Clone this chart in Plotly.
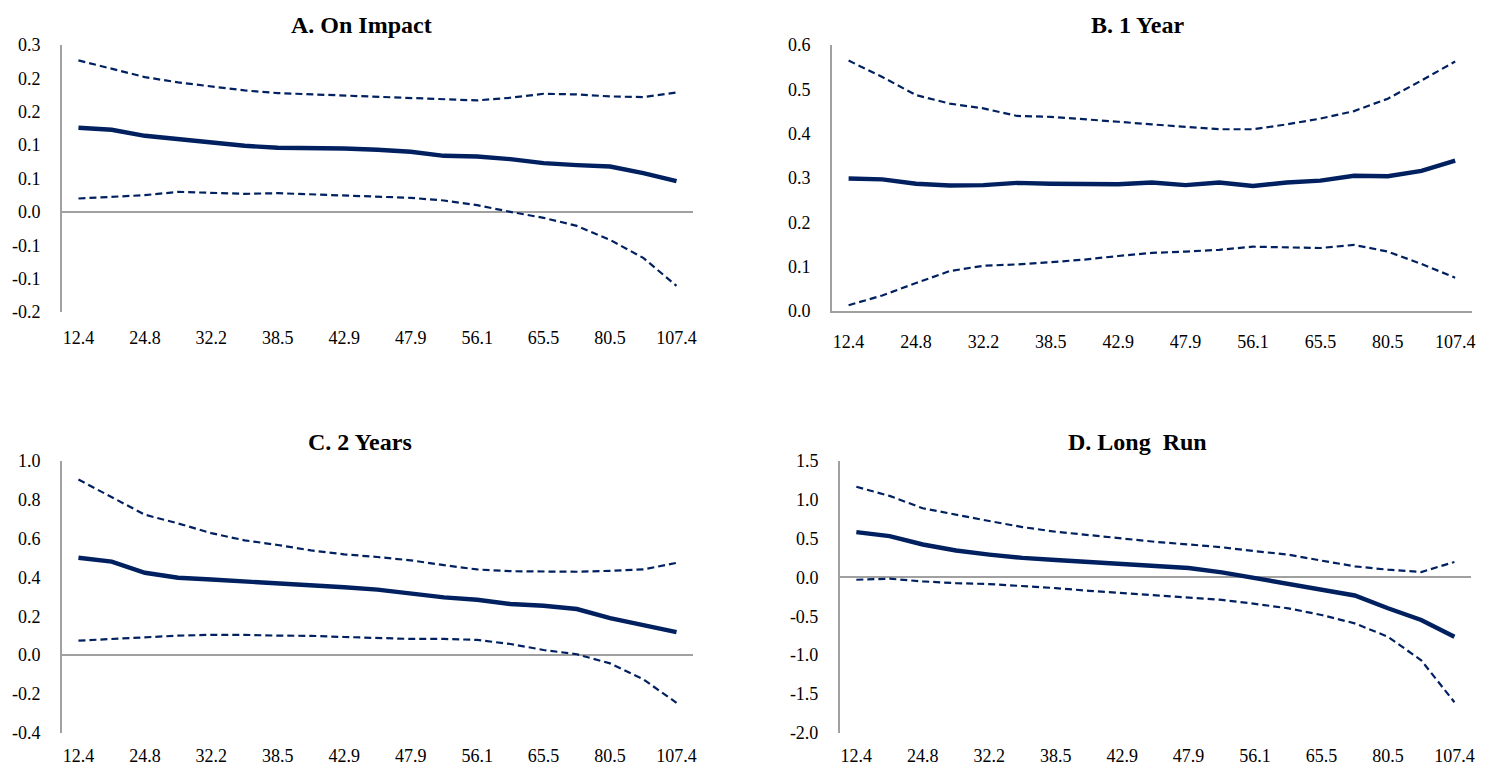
import plotly.graph_objects as go

# Category axis: 19 observations, every second one labelled
x_labels = ["12.4", "24.8", "32.2", "38.5", "42.9", "47.9", "56.1", "65.5", "80.5", "107.4"]
x_pos = list(range(19))
label_pos = x_pos[::2]

# A. On Impact
impact_mid = [0.126, 0.123, 0.114, 0.109, 0.104, 0.099, 0.096, 0.096, 0.095, 0.093,
              0.090, 0.084, 0.083, 0.079, 0.073, 0.070, 0.068, 0.058, 0.046]
impact_hi = [0.227, 0.215, 0.202, 0.194, 0.188, 0.182, 0.178, 0.176, 0.174, 0.172,
             0.171, 0.168, 0.167, 0.171, 0.177, 0.176, 0.173, 0.172, 0.179]
impact_lo = [0.020, 0.023, 0.025, 0.030, 0.028, 0.027, 0.028, 0.026, 0.024, 0.022,
             0.021, 0.017, 0.010, 0.000, -0.009, -0.021, -0.042, -0.069, -0.111]

# B. 1 Year
year1_mid = [0.299, 0.297, 0.287, 0.283, 0.284, 0.289, 0.287, 0.287, 0.286, 0.290,
             0.284, 0.290, 0.282, 0.290, 0.294, 0.305, 0.304, 0.316, 0.339]
year1_hi = [0.565, 0.528, 0.487, 0.468, 0.457, 0.440, 0.438, 0.433, 0.427, 0.421,
            0.416, 0.410, 0.410, 0.421, 0.434, 0.451, 0.479, 0.520, 0.563]
year1_lo = [0.013, 0.035, 0.063, 0.090, 0.102, 0.105, 0.110, 0.116, 0.124, 0.131,
            0.134, 0.138, 0.145, 0.143, 0.142, 0.149, 0.134, 0.106, 0.075]

# C. 2 Years
year2_mid = [0.501, 0.481, 0.424, 0.398, 0.389, 0.380, 0.372, 0.363, 0.349, 0.337,
             0.316, 0.297, 0.285, 0.263, 0.254, 0.237, 0.190, 0.152, 0.118]
year2_hi = [0.904, 0.812, 0.723, 0.678, 0.628, 0.591, 0.567, 0.539, 0.519, 0.505,
            0.488, 0.463, 0.441, 0.432, 0.429, 0.429, 0.434, 0.441, 0.475]
year2_lo = [0.074, 0.083, 0.093, 0.100, 0.104, 0.104, 0.100, 0.099, 0.093, 0.088,
            0.083, 0.083, 0.078, 0.057, 0.026, 0.004, -0.043, -0.125, -0.246]

# D. Long Run
long_mid = [0.583, 0.532, 0.424, 0.346, 0.294, 0.251, 0.225, 0.199, 0.177, 0.151,
            0.121, 0.065, -0.009, -0.074, -0.151, -0.233, -0.398, -0.549, -0.765]
long_hi = [1.167, 1.050, 0.890, 0.804, 0.726, 0.648, 0.588, 0.545, 0.501, 0.458,
           0.424, 0.389, 0.337, 0.294, 0.216, 0.143, 0.099, 0.069, 0.199]
long_lo = [-0.030, -0.017, -0.052, -0.074, -0.086, -0.108, -0.138, -0.173, -0.203, -0.225,
           -0.259, -0.290, -0.341, -0.398, -0.484, -0.592, -0.765, -1.067, -1.608]

# Y tick values and the one-decimal labels shown next to them
impact_ticks = [0.25, 0.2, 0.15, 0.1, 0.05, 0.0, -0.05, -0.1, -0.15]
impact_tick_text = ["0.3", "0.2", "0.2", "0.1", "0.1", "0.0", "-0.1", "-0.1", "-0.2"]
year1_ticks = [0.6, 0.5, 0.4, 0.3, 0.2, 0.1, 0.0]
year1_tick_text = ["0.6", "0.5", "0.4", "0.3", "0.2", "0.1", "0.0"]
year2_ticks = [1.0, 0.8, 0.6, 0.4, 0.2, 0.0, -0.2, -0.4]
year2_tick_text = ["1.0", "0.8", "0.6", "0.4", "0.2", "0.0", "-0.2", "-0.4"]
long_ticks = [1.5, 1.0, 0.5, 0.0, -0.5, -1.0, -1.5, -2.0]
long_tick_text = ["1.5", "1.0", "0.5", "0.0", "-0.5", "-1.0", "-1.5", "-2.0"]

W, H = 1486, 768
NAVY = "#002060"
AXIS_GREY = "#a0a0a0"
FONT = "Liberation Serif"


def px_x(p):
    return p / W


def px_y(p):
    return 1 - p / H


panels = [
    dict(title="A. On Impact", mid=impact_mid, hi=impact_hi, lo=impact_lo,
         ticks=impact_ticks, tick_text=impact_tick_text,
         xdom=(62, 695), ydom=(36, 310), title_xy=(362, 15), xstand=13),
    dict(title="B. 1 Year", mid=year1_mid, hi=year1_hi, lo=year1_lo,
         ticks=year1_ticks, tick_text=year1_tick_text,
         xdom=(834, 1476), ydom=(36, 309), title_xy=(1141, 15), xstand=14),
    dict(title="C. 2 Years", mid=year2_mid, hi=year2_hi, lo=year2_lo,
         ticks=year2_ticks, tick_text=year2_tick_text,
         xdom=(62, 695), ydom=(463, 742), title_xy=(361, 444), xstand=10),
    dict(title="D. Long\u00a0 Run", mid=long_mid, hi=long_hi, lo=long_lo,
         ticks=long_ticks, tick_text=long_tick_text,
         xdom=(842, 1475), ydom=(463, 742), title_xy=(1141, 444), xstand=10),
]

fig = go.Figure()
layout = dict(
    width=W, height=H,
    margin=dict(l=0, r=0, t=0, b=0),
    paper_bgcolor="white", plot_bgcolor="white",
    showlegend=False,
    font=dict(family=FONT, size=18, color="black"),
    annotations=[],
)

for i, p in enumerate(panels, start=1):
    xa = "x" if i == 1 else f"x{i}"
    ya = "y" if i == 1 else f"y{i}"
    for series, width, dash in ((p["hi"], 2.2, "7px,4px"),
                                (p["lo"], 2.2, "7px,4px"),
                                (p["mid"], 4.4, "solid")):
        fig.add_trace(go.Scatter(
            x=x_pos, y=series, mode="lines", xaxis=xa, yaxis=ya,
            line=dict(color=NAVY, width=width, dash=dash),
            hoverinfo="skip",
        ))

    lo_t, hi_t = min(p["ticks"]), max(p["ticks"])
    bottom_is_zero = lo_t == 0
    layout[f"xaxis{'' if i == 1 else i}"] = dict(
        domain=[px_x(p["xdom"][0]), px_x(p["xdom"][1])],
        anchor=ya, range=[-0.5, 18.5],
        tickmode="array", tickvals=label_pos, ticktext=x_labels,
        showgrid=False, zeroline=False, ticks="",
        showline=bottom_is_zero, linecolor=AXIS_GREY, linewidth=1.5,
        ticklabelstandoff=p["xstand"],
        tickfont=dict(family=FONT, size=18, color="black"),
    )
    layout[f"yaxis{'' if i == 1 else i}"] = dict(
        domain=[px_y(p["ydom"][1]), px_y(p["ydom"][0])],
        anchor=xa, range=[lo_t, hi_t],
        tickmode="array", tickvals=p["ticks"], ticktext=p["tick_text"],
        showgrid=False, ticks="",
        showline=True, linecolor=AXIS_GREY, linewidth=1.5,
        zeroline=not bottom_is_zero, zerolinecolor=AXIS_GREY, zerolinewidth=1.5,
        ticklabelstandoff=16,
        tickfont=dict(family=FONT, size=18, color="black"),
    )
    layout["annotations"].append(dict(
        text=f"<b>{p['title']}</b>", xref="paper", yref="paper",
        x=px_x(p["title_xy"][0]), y=px_y(p["title_xy"][1]),
        xanchor="center", yanchor="middle", showarrow=False,
        font=dict(family=FONT, size=24, color="black"),
    ))

fig.update_layout(**layout)
fig.write_html("out.html")
